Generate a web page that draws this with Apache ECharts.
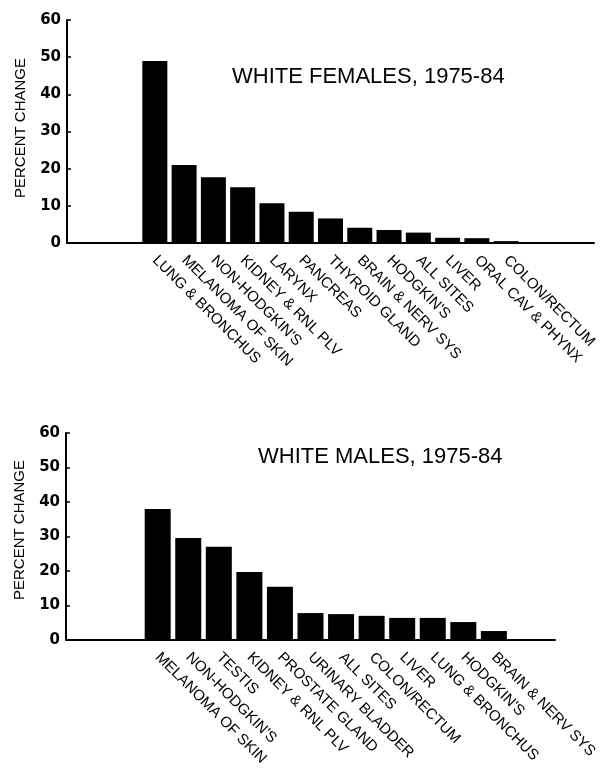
<!DOCTYPE html>
<html>
<head>
<meta charset="utf-8">
<script src="https://cdn.jsdelivr.net/npm/echarts@6/dist/echarts.min.js"></script>
<style>
html,body{margin:0;padding:0;background:#fff;}
#c{width:603px;height:773px;}
</style>
</head>
<body>
<div id="c"></div>
<script>
// Top panel: white females
const femaleSites = ["LUNG & BRONCHUS","MELANOMA OF SKIN","NON-HODGKIN'S","KIDNEY & RNL PLV","LARYNX","PANCREAS","THYROID GLAND","BRAIN & NERV SYS","HODGKIN'S","ALL SITES","LIVER","ORAL CAV & PHYNX","COLON/RECTUM"];
const femaleChange = [49, 21, 17.7, 15, 10.7, 8.4, 6.6, 4.1, 3.5, 2.8, 1.4, 1.3, 0.5];
// Bottom panel: white males
const maleSites = ["MELANOMA OF SKIN","NON-HODGKIN'S","TESTIS","KIDNEY & RNL PLV","PROSTATE GLAND","URINARY BLADDER","ALL SITES","COLON/RECTUM","LIVER","LUNG & BRONCHUS","HODGKIN'S","BRAIN & NERV SYS"];
const maleChange = [38, 29.6, 27, 19.7, 15.4, 7.8, 7.5, 7.0, 6.4, 6.4, 5.2, 2.6];
const yTicks = [0, 10, 20, 30, 40, 50, 60];
const titles = ["WHITE FEMALES, 1975-84", "WHITE MALES, 1975-84"];
const yName = "PERCENT CHANGE";

const chart = echarts.init(document.getElementById('c'), null, {renderer:'canvas'});
const FONT = 'Liberation Sans, Arial, sans-serif';

function xAxisFor(names, idx, max){
  return {
    type:'value', gridIndex: idx, min:-3, max:max, interval:1,
    splitLine:{show:false}, axisTick:{show:false},
    axisLine:{show:true, onZero:false, lineStyle:{color:'#000', width:2}},
    axisLabel:{
      rotate:-45, margin:15, color:'#000', fontSize:15, fontFamily:FONT,
      showMinLabel:true, showMaxLabel:true,
      formatter: v => (Number.isInteger(v) && names[v] !== undefined) ? names[v] : ''
    }
  };
}
function yAxisFor(idx){
  return {
    type:'value', gridIndex: idx, min:yTicks[0], max:yTicks[yTicks.length-1], interval:10,
    splitLine:{show:false},
    axisLine:{show:true, onZero:false, lineStyle:{color:'#000', width:2}},
    axisTick:{show:true, inside:true, length:4, lineStyle:{color:'#000', width:1.5}},
    axisLabel:{color:'#000', fontSize:15, fontWeight:'bold', fontFamily:'DejaVu Sans, sans-serif', margin:6}
  };
}

chart.setOption({
  animation:false,
  backgroundColor:'#fff',
  title:[
    {text:titles[0], left:232, top:66, padding:0, textStyle:{fontSize:22, fontWeight:'normal', color:'#000', fontFamily:FONT}},
    {text:titles[1], left:258, top:446, padding:0, textStyle:{fontSize:22, fontWeight:'normal', color:'#000', fontFamily:FONT}}
  ],
  grid:[
    {left:67, top:20, width:527, height:223},
    {left:66, top:433, width:489, height:207}
  ],
  xAxis:[ xAxisFor(femaleSites, 0, 15), xAxisFor(maleSites, 1, 13) ],
  yAxis:[ yAxisFor(0), yAxisFor(1) ],
  graphic:[
    {type:'text', x:21, y:128, rotation:Math.PI/2, style:{text:yName, fontSize:15, fontFamily:FONT, fill:'#000', textAlign:'center', textVerticalAlign:'middle'}},
    {type:'text', x:20, y:530, rotation:Math.PI/2, style:{text:yName, fontSize:15, fontFamily:FONT, fill:'#000', textAlign:'center', textVerticalAlign:'middle'}}
  ],
  series:[
    {type:'bar', xAxisIndex:0, yAxisIndex:0, barWidth:25, itemStyle:{color:'#000'},
     data: femaleChange.map((v,i)=>[i,v])},
    {type:'bar', xAxisIndex:1, yAxisIndex:1, barWidth:26, itemStyle:{color:'#000'},
     data: maleChange.map((v,i)=>[i,v])}
  ]
});
</script>
</body>
</html>
